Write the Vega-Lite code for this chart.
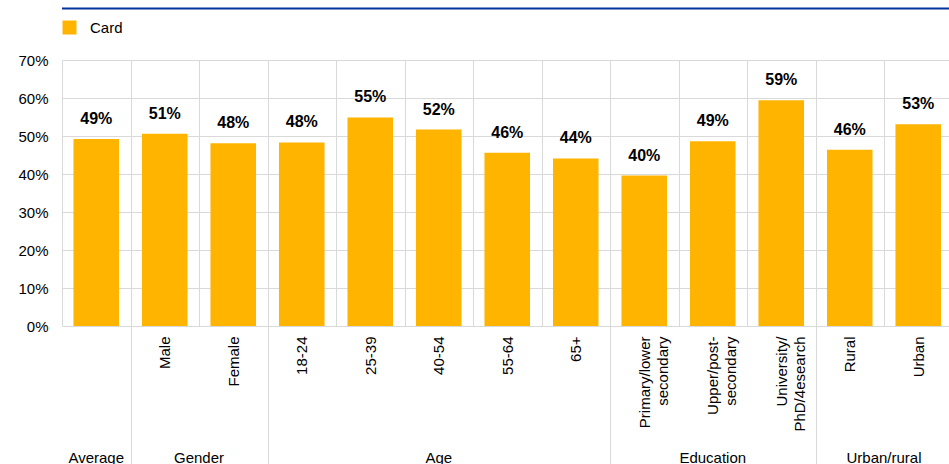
{
  "$schema": "https://vega.github.io/schema/vega-lite/v6.json",
  "padding": {"left": 4, "top": 7, "right": 0, "bottom": 0},
  "background": "white",
  "config": {"font": "Liberation Sans", "view": {"stroke": null}},
  "columns": 1,
  "align": "none",
  "spacing": 10,
  "resolve": {"legend": {"color": "independent"}},
  "concat": [
    {
      "data": {"values": [{"v": 0}]},
      "width": 945,
      "height": 1,
      "mark": {"type": "rule", "color": "#003399", "strokeWidth": 2},
      "encoding": {"y": {"field": "v", "type": "quantitative", "axis": null}}
    },
    {
      "data": {
        "values": [
          {"group": "Average", "cat": "Average", "value": 0.492},
          {"group": "Gender", "cat": "Male", "value": 0.506},
          {"group": "Gender", "cat": "Female", "value": 0.481},
          {"group": "Age", "cat": "18-24", "value": 0.483},
          {"group": "Age", "cat": "25-39", "value": 0.549},
          {"group": "Age", "cat": "40-54", "value": 0.517},
          {"group": "Age", "cat": "55-64", "value": 0.456},
          {"group": "Age", "cat": "65+", "value": 0.441},
          {"group": "Education", "cat": "Primary/lower|secondary", "value": 0.396},
          {"group": "Education", "cat": "Upper/post-|secondary", "value": 0.486},
          {"group": "Education", "cat": "University/|PhD/4esearch", "value": 0.594},
          {"group": "Urban/rural", "cat": "Rural", "value": 0.464},
          {"group": "Urban/rural", "cat": "Urban", "value": 0.531}
        ]
      },
      "width": {"step": 68.5},
      "height": 266,
      "encoding": {
        "y": {
          "field": "value",
          "type": "quantitative",
          "scale": {"domain": [0, 0.7]},
          "axis": {
            "title": null,
            "domain": false,
            "ticks": false,
            "grid": true,
            "gridColor": "#d9d9d9",
            "values": [0, 0.1, 0.2, 0.3, 0.4, 0.5, 0.6, 0.7],
            "format": ".0%",
            "labelPadding": 14,
            "labelFontSize": 15,
            "labelColor": "#000",
            "minExtent": 58
          }
        }
      },
      "resolve": {"axis": {"x": "independent"}},
      "layer": [
        {
          "mark": {"type": "bar", "width": {"band": 0.665}},
          "encoding": {
            "x": {
              "field": "cat",
              "type": "nominal",
              "sort": null,
              "scale": {"paddingInner": 0, "paddingOuter": 0},
              "axis": {
                "orient": "bottom",
                "title": null,
                "domain": false,
                "grid": true,
                "gridColor": "#d9d9d9",
                "tickBand": "extent",
                "ticks": true,
                "tickSize": 145,
                "tickColor": "#d9d9d9",
                "tickOpacity": {"condition": {"test": "indexof(['Average','Female','65+','University/|PhD/4esearch','Urban'], datum.value) >= 0 || datum.index == 1", "value": 1}, "value": 0},
                "labelPadding": -135,
                "labelAngle": -90,
                "labelAlign": "right",
                "labelBaseline": "middle",
                "labelFontSize": 15,
                "labelColor": "#000",
                "labelLineHeight": 18,
                "labelOverlap": false,
                "labelExpr": "datum.label == 'Average' ? '' : split(datum.label, '|')"
              }
            },
            "color": {
              "datum": "Card",
              "type": "nominal",
              "scale": {"range": ["#FFB400"]},
              "legend": {
                "title": null,
                "orient": "top",
                "symbolType": "square",
                "symbolSize": 196,
                "symbolStrokeWidth": 0,
                "labelFontSize": 15,
                "labelColor": "#000",
                "labelOffset": 13,
                "offset": 24,
                "padding": 0
              }
            }
          }
        },
        {
          "mark": {"type": "text", "fontWeight": "bold", "fontSize": 16, "dy": -15, "baseline": "alphabetic", "color": "#000"},
          "encoding": {
            "x": {
              "field": "cat",
              "type": "nominal",
              "sort": null,
              "axis": {
                "orient": "bottom",
                "title": null,
                "domain": false,
                "grid": false,
                "ticks": false,
                "offset": 121,
                "labelPadding": 3,
                "labelAngle": 0,
                "labelAlign": "center",
                "labelBaseline": "top",
                "labelFontSize": 15,
                "labelColor": "#000",
                "labelOverlap": false,
                "labelOffset": {"condition": {"test": "datum.value == 'Male' || datum.value == 'Rural'", "value": 34.25}, "value": 0},
                "labelExpr": "datum.value == 'Average' ? 'Average' : datum.value == 'Male' ? 'Gender' : datum.value == '40-54' ? 'Age' : datum.value == 'Upper/post-|secondary' ? 'Education' : datum.value == 'Rural' ? 'Urban/rural' : ''"
              }
            },
            "text": {"field": "value", "type": "quantitative", "format": ".0%"}
          }
        }
      ]
    }
  ]
}
